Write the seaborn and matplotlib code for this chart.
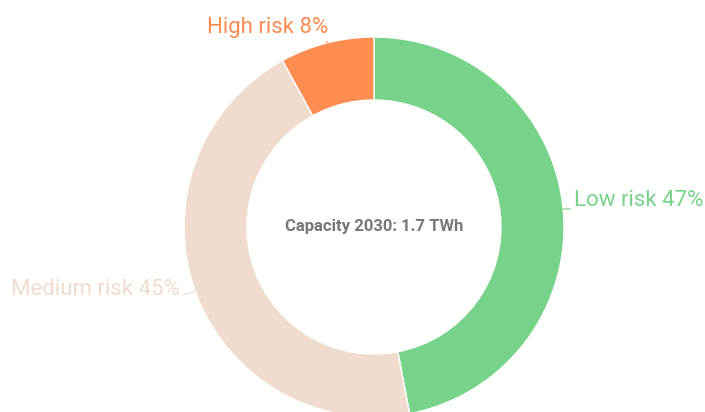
import numpy as np
import seaborn as sns
import matplotlib.pyplot as plt

labels = ["Low risk", "Medium risk", "High risk"]
shares = [47, 45, 8]
colors = ["#77d38a", "#efdccf", "#ff8c50"]
center_text = "Capacity 2030: 1.7 TWh"

sns.set_theme(style="white")
plt.rcParams["font.family"] = ["Roboto", "DejaVu Sans"]

fig = plt.figure(figsize=(7.05, 4.12), dpi=100)
ax = fig.add_axes([0, 0, 1, 1])

# donut: outer radius 190px, centre at (374, 227) px
r_px = 190.0
cx, cy = 374.0, 227.0
wedges, _ = ax.pie(
    shares,
    colors=colors,
    startangle=90,
    counterclock=False,
    radius=1.0,
    wedgeprops=dict(width=1 - 127 / 190, edgecolor="white", linewidth=1),
)
ax.set_xlim(-cx / r_px, (705 - cx) / r_px)
ax.set_ylim(-(412 - cy) / r_px, cy / r_px)
ax.set_aspect("auto")
ax.axis("off")

# label offsets in points (dx, dy) and alignment
label_style = {
    "Low risk": ((7.5, 6.5), "left", (0.0, 0.1)),
    "Medium risk": ((-11, 1.5), "right", (1.0, 0.2)),
    "High risk": ((1.5, 11), "right", (1.0, 0.1)),
}

for w, lab, val, col in zip(wedges, labels, shares, colors):
    ang = np.deg2rad((w.theta1 + w.theta2) / 2)
    x, y = np.cos(ang), np.sin(ang)
    off, ha, rel = label_style[lab]
    ax.annotate(
        f"{lab} {val}%",
        xy=(x, y),
        xytext=off,
        textcoords="offset points",
        ha=ha,
        va="center",
        fontsize=16,
        color=col,
        arrowprops=dict(arrowstyle="-", color=col, lw=0.8, relpos=rel,
                        shrinkA=0, shrinkB=0),
    )

ax.text(0, 0, center_text, ha="center", va="center", fontsize=12,
        fontweight="bold", color="#777777")

fig.savefig("out.png", dpi=100)
